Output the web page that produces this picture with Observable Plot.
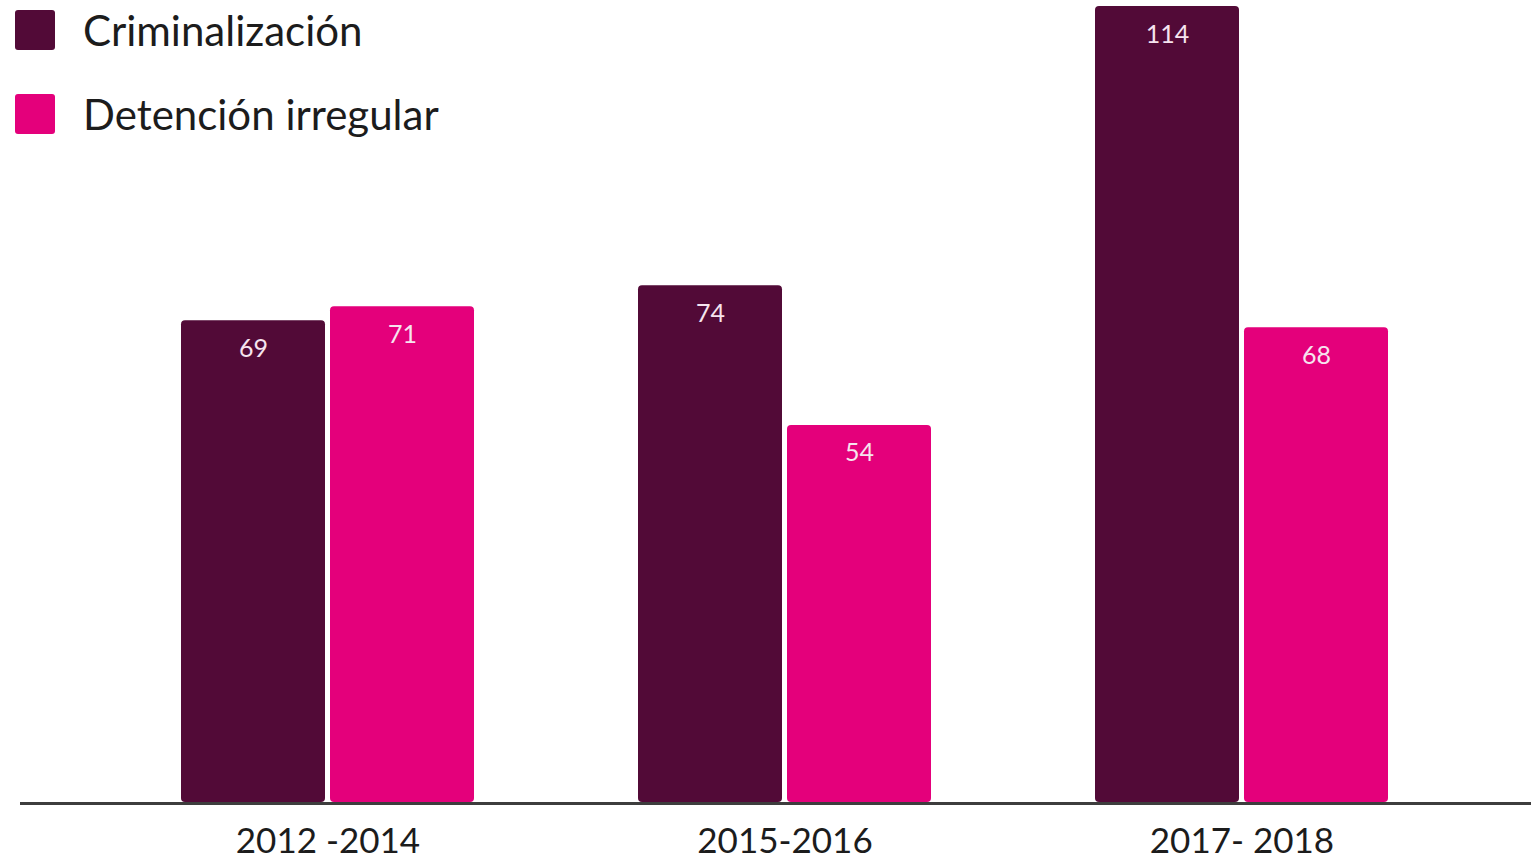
<!DOCTYPE html>
<html>
<head>
<meta charset="utf-8">
<script src="https://cdn.jsdelivr.net/npm/d3@7"></script>
<script src="https://cdn.jsdelivr.net/npm/@observablehq/plot@0.6"></script>
<style>
  html, body { margin: 0; padding: 0; background: #fff; }
  #wrap { position: relative; width: 1531px; height: 859px; overflow: hidden; font-family: Lato, "Open Sans", sans-serif; }
  #legend { position: absolute; left: 15px; top: 8px; z-index: 2; }
  .item { display: flex; align-items: center; height: 44px; margin-bottom: 40px; font-size: 42px; color: #1c1c1c; }
  .sw { width: 40px; height: 40px; border-radius: 3px; margin-right: 28px; }
</style>
</head>
<body>
<div id="wrap"><div id="legend"></div></div>
<script>
const periods = ["2012 -2014", "2015-2016", "2017- 2018"];
const series = ["Criminalización", "Detención irregular"];
const criminalizacion = [69, 74, 114];
const detencion = [71, 54, 68];
const colors = ["#520a37", "#e4007b"];

const rows = [];
periods.forEach((p, i) => {
  rows.push({period: p, serie: series[0], value: criminalizacion[i]});
  rows.push({period: p, serie: series[1], value: detencion[i]});
});

const legend = document.getElementById("legend");
series.forEach((s, i) => {
  const d = document.createElement("div");
  d.className = "item";
  d.innerHTML = `<div class="sw" style="background:${colors[i]}"></div><span>${s}</span>`;
  legend.appendChild(d);
});

const W = 1531, H = 859;
const chart = Plot.plot({
  width: W,
  height: H,
  marginTop: 6,
  marginBottom: 57,
  marginLeft: 20,
  marginRight: 0,
  style: {background: "transparent", fontFamily: "Lato, 'Open Sans', sans-serif"},
  fx: {domain: periods, paddingInner: 0, paddingOuter: 0.153, align: 0.561, label: null},
  x: {domain: series, paddingInner: 0.0336, paddingOuter: 0.55, axis: null},
  y: {domain: [0, 114], axis: null},
  color: {domain: series, range: colors},
  marks: [
    Plot.axisFx({anchor: "bottom", tickSize: 0, tickPadding: 26, fontSize: 35, fill: "#1c1c1c", label: null}),
    Plot.barY(rows, {fx: "period", x: "serie", y: "value", fill: "serie", rx: 4}),
    Plot.text(rows, {fx: "period", x: "serie", y: "value", text: d => String(d.value), dy: 28, fill: "#f6e4ef", fontSize: 25})
  ]
});
const y0 = chart.scale("y").apply(0) + 1.5;
d3.select(chart).append("line")
  .attr("x1", 20).attr("x2", W)
  .attr("y1", y0).attr("y2", y0)
  .attr("stroke", "#3d3d3d").attr("stroke-width", 3);
chart.style.position = "absolute";
chart.style.left = "0px";
chart.style.top = "0px";
document.getElementById("wrap").insertBefore(chart, legend);
</script>
</body>
</html>
